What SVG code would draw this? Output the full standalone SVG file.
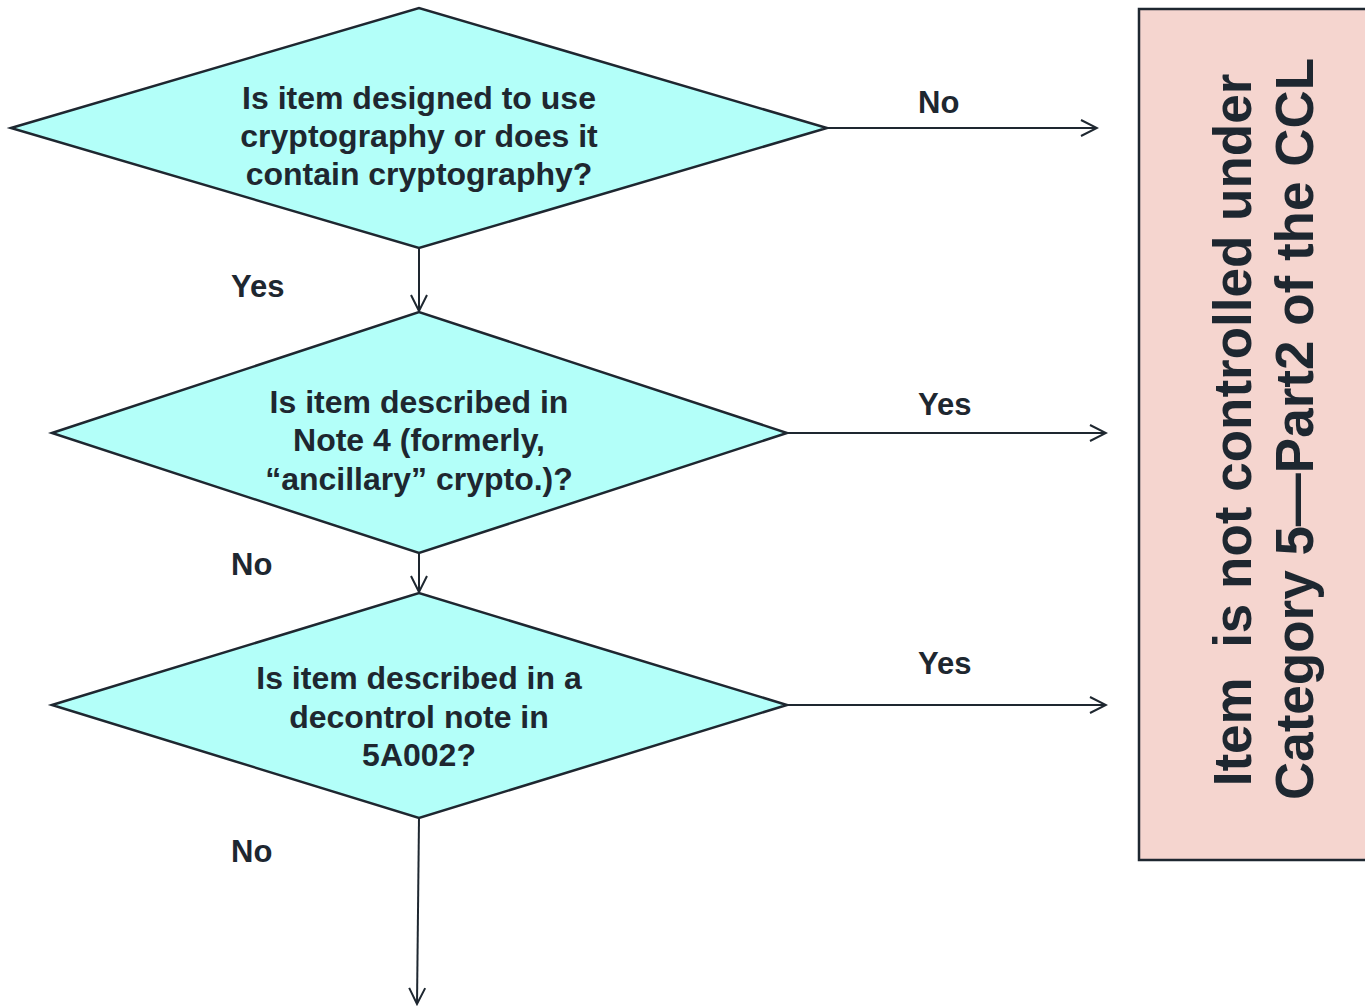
<svg xmlns="http://www.w3.org/2000/svg" width="1365" height="1006" viewBox="0 0 1365 1006">
<style>
.d{fill:#b3fff9;stroke:#1e2730;stroke-width:2.5}
.t{font-family:"Liberation Sans",Arial,sans-serif;font-weight:bold;font-size:32px;fill:#1e2730;text-anchor:middle}
.l{font-family:"Liberation Sans",Arial,sans-serif;font-weight:bold;font-size:31px;fill:#1e2730}
.c{stroke:#1e2730;stroke-width:2;fill:none}
.b{font-family:"Liberation Sans",Arial,sans-serif;font-weight:bold;font-size:53px;fill:#1e2730;text-anchor:middle;white-space:pre}
</style>
<defs>
<marker id="a" viewBox="0 0 20 20" refX="18" refY="10" markerWidth="20" markerHeight="20" markerUnits="userSpaceOnUse" orient="auto">
<path d="M2,2 L18,10 L2,18" fill="none" stroke="#1e2730" stroke-width="2"/>
</marker>
</defs>
<rect width="1365" height="1006" fill="#fff"/>
<g id="connectors">
<line class="c" x1="827" y1="128" x2="1097" y2="128" marker-end="url(#a)"/>
<line class="c" x1="787" y1="433" x2="1106" y2="433" marker-end="url(#a)"/>
<line class="c" x1="787" y1="705" x2="1106" y2="705" marker-end="url(#a)"/>
<line class="c" x1="419" y1="248" x2="419" y2="311" marker-end="url(#a)"/>
<line class="c" x1="419" y1="553" x2="419" y2="592" marker-end="url(#a)"/>
<line class="c" x1="419" y1="818" x2="417" y2="1004" marker-end="url(#a)"/>
<text class="l" x="918" y="113">No</text>
<text class="l" x="231" y="297">Yes</text>
<text class="l" x="918" y="415">Yes</text>
<text class="l" x="231" y="575">No</text>
<text class="l" x="918" y="674">Yes</text>
<text class="l" x="231" y="862">No</text>
</g>
<g id="d1">
<polygon class="d" points="11,128 419,8 827,128 419,248"/>
<text class="t" x="419" y="109">Is item designed to use</text>
<text class="t" x="419" y="147">cryptography or does it</text>
<text class="t" x="419" y="185">contain cryptography?</text>
</g>
<g id="d2">
<polygon class="d" points="52,433 419,312 787,433 419,553"/>
<text class="t" x="419" y="413">Is item described in</text>
<text class="t" x="419" y="451">Note 4 (formerly,</text>
<text class="t" x="419" y="490">“ancillary” crypto.)?</text>
</g>
<g id="d3">
<polygon class="d" points="52,705 419,593 787,705 419,818"/>
<text class="t" x="419" y="689">Is item described in a</text>
<text class="t" x="419" y="728">decontrol note in</text>
<text class="t" x="419" y="766">5A002?</text>
</g>
<g id="result">
<rect x="1139" y="9" width="240" height="851" fill="#f5d5cf" stroke="#1e2730" stroke-width="2.5"/>
<text class="b" xml:space="preserve" transform="translate(1251,430) rotate(-90)">Item  is not controlled under</text>
<text class="b" transform="translate(1313,429) rotate(-90)">Category 5—Part2 of the CCL</text>
</g>
</svg>
